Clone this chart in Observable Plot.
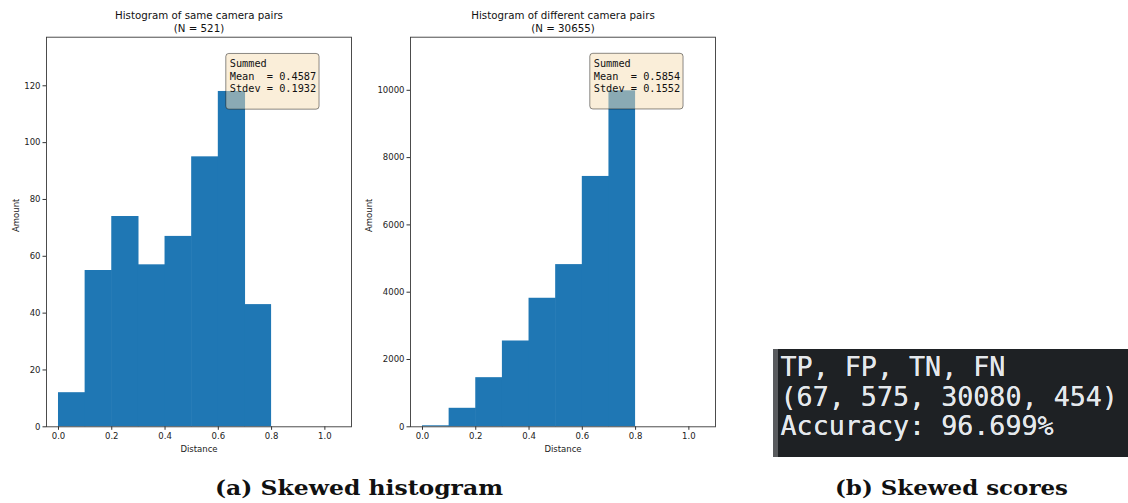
<!DOCTYPE html>
<html>
<head>
<meta charset="utf-8">
<script src="https://cdn.jsdelivr.net/npm/d3@7"></script>
<script src="https://cdn.jsdelivr.net/npm/@observablehq/plot@0.6"></script>
<style>
  html, body { margin: 0; padding: 0; background: #fff; }
  #wrap { position: relative; width: 1128px; height: 503px; overflow: hidden; background: #fff; }
  .plot { position: absolute; top: 0; }
  svg text { white-space: pre; }
  .cap { position: absolute; font-family: "DejaVu Serif", serif; font-weight: bold; font-size: 21px; color: #111; white-space: nowrap; transform-origin: 0 0; line-height: 1; }
  #term { position: absolute; left: 773px; top: 349px; width: 355px; height: 108px; background: #1e2124; }
  #term .strip { position: absolute; left: 0; top: 0; width: 5px; height: 100%; background: #595b5e; }
  #term pre { position: absolute; left: 7.5px; top: 0; margin: 0; font-family: "DejaVu Sans Mono", monospace; font-size: 26.7px; line-height: 29.5px; color: #e4e8ec; padding-top: 3px; text-shadow: 0 0 0.4px #e4e8ec; }
</style>
</head>
<body>
<div id="wrap"></div>
<script>
// ---- data ----
const binEdges = [0, 0.1, 0.2, 0.3, 0.4, 0.5, 0.6, 0.7, 0.8];
const sameCounts = [12, 55, 74, 57, 67, 95, 118, 43];
const diffCounts = [30, 550, 1460, 2550, 3820, 4820, 7440, 9985];
const xTicks = [0, 0.2, 0.4, 0.6, 0.8, 1.0];
const sameYTicks = [0, 20, 40, 60, 80, 100, 120];
const diffYTicks = [0, 2000, 4000, 6000, 8000, 10000];
const sameTitle = "Histogram of same camera pairs\n(N = 521)";
const diffTitle = "Histogram of different camera pairs\n(N = 30655)";
const sameStats = "Summed\nMean  = 0.4587\nStdev = 0.1932";
const diffStats = "Summed\nMean  = 0.5854\nStdev = 0.1552";
const scoreLines = ["TP, FP, TN, FN", "(67, 575, 30080, 454)", "Accuracy: 96.699%"];
const captions = ["(a) Skewed histogram", "(b) Skewed scores"];

function bins(counts) {
  return counts.map((c, i) => ({x1: binEdges[i], x2: binEdges[i + 1], y: c}));
}

function hist({counts, yTicks, yMax, title, stats, marginLeft, marginRight, boxY1, boxY2, textY, amountDx}) {
  const n = counts.length;
  return Plot.plot({
    width: 370,
    height: 460,
    marginLeft,
    marginRight,
    marginTop: 36.7,
    marginBottom: 33.7,
    style: {fontFamily: "DejaVu Sans", fontSize: "8.5px", color: "#222", background: "transparent"},
    x: {domain: [-0.045, 1.1]},
    y: {domain: [0, yMax]},
    marks: [
      // all but the last bar overlap their right neighbour slightly to hide antialiasing seams
      Plot.rectY(bins(counts).slice(0, n - 1), {x1: "x1", x2: "x2", y: "y", fill: "#1f77b4", insetLeft: 0, insetRight: -0.6}),
      Plot.rectY(bins(counts).slice(n - 1), {x1: "x1", x2: "x2", y: "y", fill: "#1f77b4", insetLeft: 0, insetRight: 0}),
      Plot.rect([0], {x1: () => 0.630, x2: () => 0.980, y1: () => boxY1, y2: () => boxY2, fill: "wheat", fillOpacity: 0.5, stroke: "black", strokeOpacity: 0.45, strokeWidth: 1, rx: 3, ry: 3}),
      Plot.text([stats], {x: () => 0.643, y: () => textY, text: d => d, textAnchor: "start", lineAnchor: "top", fontFamily: "DejaVu Sans Mono", fontSize: 10.25, lineHeight: 1.24, fill: "#111"}),
      Plot.axisY({ticks: yTicks, tickFormat: d => String(d), tickSize: 3.5, tickPadding: 2.5, label: null, stroke: "#333"}),
      Plot.axisX({ticks: xTicks, tickFormat: d3.format(".1f"), tickSize: 3.5, tickPadding: 2.5, label: null, stroke: "#333"}),
      Plot.frame({stroke: "#3a3a3a", strokeWidth: 0.9}),
      Plot.text([title], {frameAnchor: "top", text: d => d, lineAnchor: "bottom", dy: -5.7, fontSize: 10.25, lineHeight: 1.24, fill: "#111"}),
      Plot.text(["Distance"], {frameAnchor: "bottom", text: d => d, lineAnchor: "bottom", dy: 24.7, fontSize: 8.5, fill: "#222"}),
      Plot.text(["Amount"], {frameAnchor: "left", text: d => d, rotate: -90, lineAnchor: "bottom", dx: amountDx, fontSize: 8.5, fill: "#222"})
    ]
  });
}

const wrap = document.getElementById("wrap");

const p1 = hist({counts: sameCounts, yTicks: sameYTicks, yMax: 137.1, title: sameTitle, stats: sameStats,
  marginLeft: 46, marginRight: 19, boxY1: 111.6, boxY2: 131.2, textY: 129.8, amountDx: -28});
p1.classList.add("plot"); p1.style.left = "0px";
wrap.appendChild(p1);

const p2 = hist({counts: diffCounts, yTicks: diffYTicks, yMax: 11578, title: diffTitle, stats: diffStats,
  marginLeft: 50, marginRight: 15, boxY1: 9430, boxY2: 11085, textY: 10966, amountDx: -39});
p2.classList.add("plot"); p2.style.left = "360px";
wrap.appendChild(p2);

// terminal-style score panel
const term = document.createElement("div");
term.id = "term";
term.innerHTML = '<div class="strip"></div>';
const pre = document.createElement("pre");
pre.textContent = scoreLines.join("\n");
term.appendChild(pre);
wrap.appendChild(term);

// sub-figure captions
const capSpecs = [{left: 215, width: 288}, {left: 835, width: 233}];
captions.forEach((t, i) => {
  const d = document.createElement("div");
  d.className = "cap";
  d.textContent = t;
  d.style.left = capSpecs[i].left + "px";
  d.style.top = "477px";
  wrap.appendChild(d);
  const w = d.getBoundingClientRect().width;
  d.style.transform = `scaleX(${capSpecs[i].width / w})`;
});
</script>
</body>
</html>
